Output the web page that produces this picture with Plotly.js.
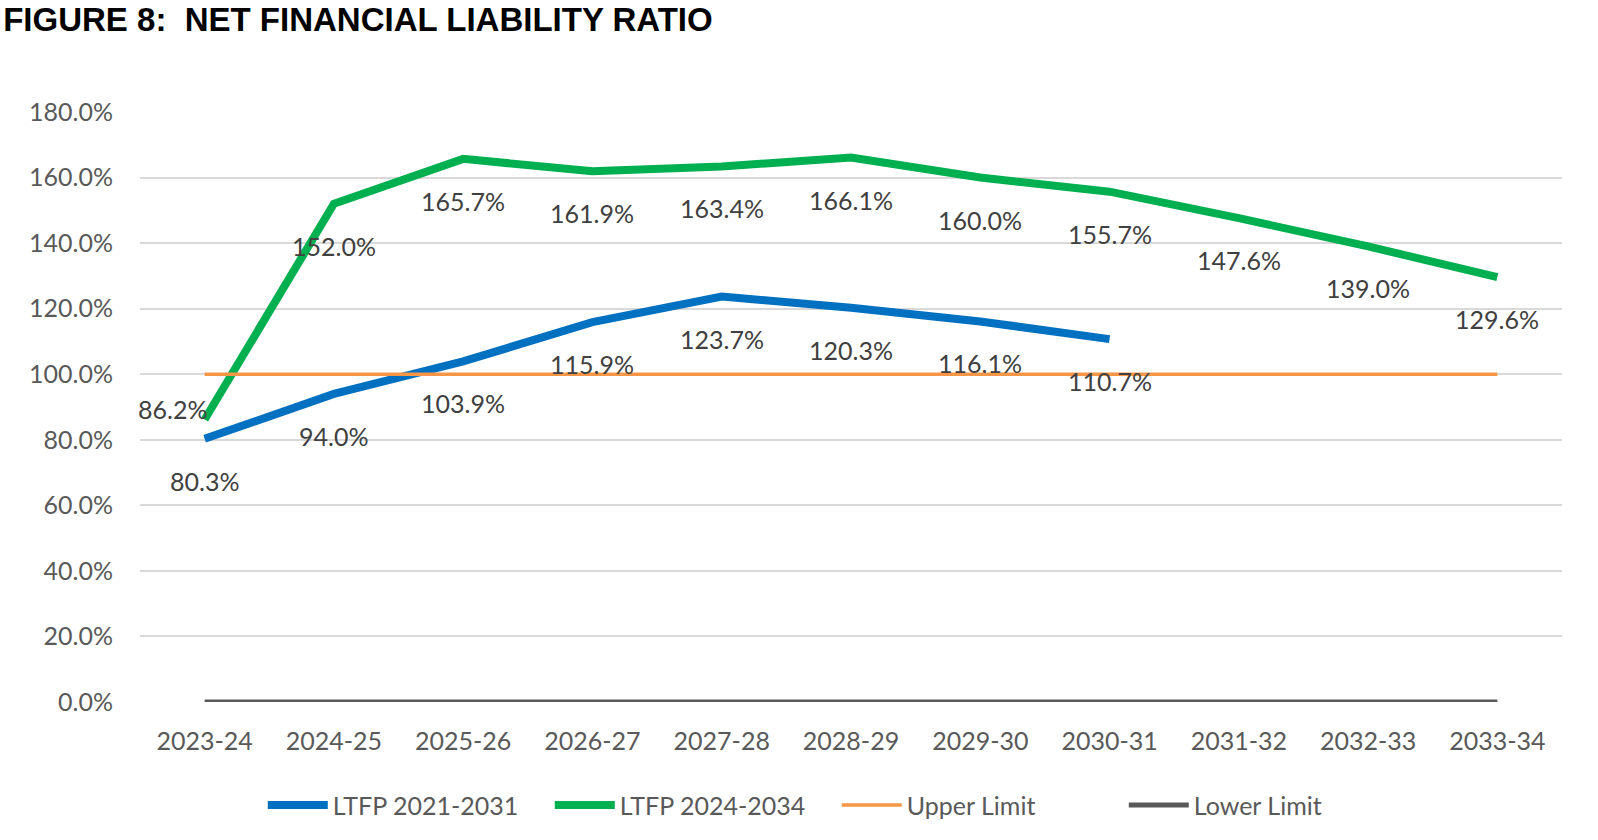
<!DOCTYPE html>
<html>
<head>
<meta charset="utf-8">
<script src="https://cdn.plot.ly/plotly-3.0.1.min.js"></script>
<style>
  body { margin: 0; background: #fff; }
  #chart { width: 1598px; height: 840px; }
</style>
</head>
<body>
<div id="chart"></div>
<script>
// Net financial liability ratio, %
var years = ["2023-24", "2024-25", "2025-26", "2026-27", "2027-28", "2028-29",
             "2029-30", "2030-31", "2031-32", "2032-33", "2033-34"];
var ltfp2021 = [80.3, 94.0, 103.9, 115.9, 123.7, 120.3, 116.1, 110.7];
var ltfp2024 = [86.2, 152.0, 165.7, 161.9, 163.4, 166.1, 160.0, 155.7, 147.6, 139.0, 129.6];
var upperLimit = [100, 100, 100, 100, 100, 100, 100, 100, 100, 100, 100];
var lowerLimit = [0, 0, 0, 0, 0, 0, 0, 0, 0, 0, 0];

var bodyFamily = "Lato, 'Open Sans', sans-serif";
var labelFont = { family: bodyFamily, size: 25, color: "#404040" };

function lineTrace(name, y, color, width) {
  return {
    x: years.slice(0, y.length),
    y: y,
    name: name,
    mode: "lines",
    line: { color: color, width: width },
    hoverinfo: "x+y"
  };
}

var data = [
  lineTrace("LTFP 2021-2031", ltfp2021, "#0070C0", 8),
  lineTrace("LTFP 2024-2034", ltfp2024, "#00B050", 8),
  lineTrace("Upper Limit", upperLimit, "#F79646", 3.5),
  lineTrace("Lower Limit", lowerLimit, "#595959", 5)
];

// data labels, sat under each point like excel does
var annotations = [];
function addLabels(values, firstLeft) {
  values.forEach(function (v, i) {
    var a = {
      x: years[i], y: v, xref: "x", yref: "y",
      text: v.toFixed(1) + "%",
      showarrow: false,
      font: labelFont,
      xanchor: "center", yanchor: "middle",
      yshift: -42
    };
    if (firstLeft && i === 0) {
      a.xanchor = "right";
      a.xshift = 4;
      a.yshift = 10;
    }
    annotations.push(a);
  });
}
addLabels(ltfp2021, false);
addLabels(ltfp2024, true);

var layout = {
  width: 1598,
  height: 840,
  margin: { l: 140, r: 36, t: 112, b: 138 },
  paper_bgcolor: "#ffffff",
  plot_bgcolor: "#ffffff",
  font: labelFont,
  title: {
    text: "<b>FIGURE 8:  NET FINANCIAL LIABILITY RATIO</b>",
    font: { family: "'Liberation Sans', Arial, sans-serif", size: 33, color: "#000000" },
    xref: "container", yref: "container",
    x: 0.002, xanchor: "left",
    y: 1 - 19 / 840, yanchor: "middle"
  },
  xaxis: {
    type: "category",
    range: [-0.5, 10.5],
    showgrid: false,
    zeroline: false,
    showline: false,
    ticks: "",
    ticklabelstandoff: 22,
    tickfont: { family: bodyFamily, size: 25, color: "#595959" },
    fixedrange: true
  },
  yaxis: {
    range: [0, 180],
    dtick: 20,
    tickformat: ".1f",
    ticksuffix: "%",
    showgrid: true,
    gridcolor: "#D9D9D9",
    gridwidth: 2,
    zeroline: false,
    showline: false,
    ticks: "",
    ticklabelstandoff: 26,
    tickfont: { family: bodyFamily, size: 25, color: "#595959" },
    fixedrange: true
  },
  showlegend: true,
  legend: {
    orientation: "h",
    x: 0.49, xanchor: "center",
    y: -0.175, yanchor: "middle",
    font: { family: bodyFamily, size: 25, color: "#595959" },
    itemwidth: 60,
    entrywidth: 212,
    entrywidthmode: "pixels",
    tracegroupgap: 0
  },
  annotations: annotations
};

Plotly.newPlot("chart", data, layout, { displayModeBar: false, staticPlot: true });
</script>
</body>
</html>
